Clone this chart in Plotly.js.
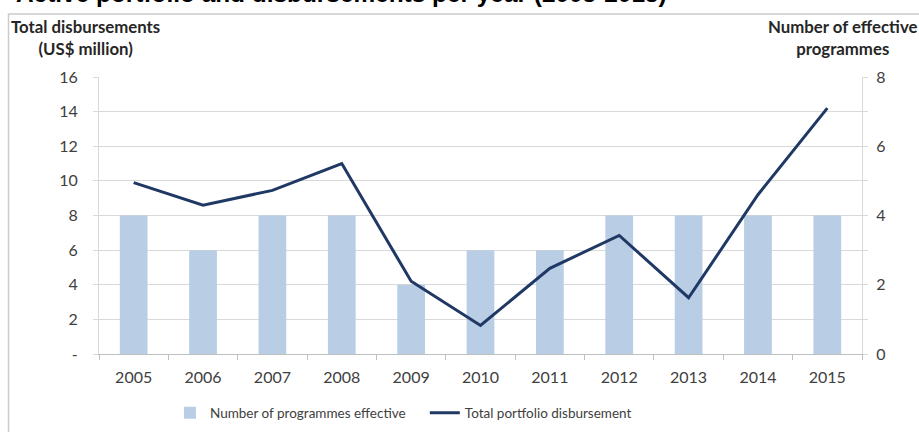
<!DOCTYPE html>
<html>
<head>
<meta charset="utf-8">
<script src="https://cdn.plot.ly/plotly-3.0.1.min.js"></script>
<style>html,body{margin:0;padding:0;background:#fff;}#chart{width:919px;height:432px;}</style>
</head>
<body>
<div id="chart"></div>
<script>
const years = ['2005','2006','2007','2008','2009','2010','2011','2012','2013','2014','2015'];
const programmesEffective = [4, 3, 4, 4, 2, 3, 3, 4, 4, 4, 4];
const disbursement = [9.9, 8.6, 9.45, 11.0, 4.2, 1.65, 4.95, 6.85, 3.25, 9.2, 14.2];
const leftTickVals = [0, 2, 4, 6, 8, 10, 12, 14, 16];
const leftTickText = ['-', '2', '4', '6', '8', '10', '12', '14', '16'];
const rightTickVals = [0, 1, 2, 3, 4, 5, 6, 7, 8];
const rightTickText = ['0', '', '2', '', '4', '', '6', '', '8'];

const FONT = 'Lato, "Open Sans", sans-serif';
const TXT = '#404040';

const traces = [
  {
    type: 'bar', x: years, y: programmesEffective, yaxis: 'y',
    name: 'Number of programmes effective', legend: 'legend',
    marker: {color: '#b9cde5', line: {width: 0}}
  },
  {
    type: 'scatter', mode: 'lines', x: years, y: disbursement, yaxis: 'y2',
    name: 'Total portfolio disbursement', legend: 'legend2',
    line: {color: '#1f3864', width: 3}
  }
];

const legendCommon = {
  orientation: 'h', xanchor: 'left', yref: 'container', y: 0.044, yanchor: 'middle',
  font: {family: FONT, size: 13.5, color: TXT}, itemwidth: 30, bgcolor: 'rgba(0,0,0,0)'
};

const layout = {
  width: 919, height: 432,
  margin: {l: 99, r: 57, t: 77, b: 78},
  paper_bgcolor: '#fff', plot_bgcolor: 'rgba(0,0,0,0)',
  font: {family: FONT, size: 16, color: TXT},
  bargap: 0.6,
  showlegend: true,
  legend: Object.assign({x: 0.093}, legendCommon),
  legend2: Object.assign({x: 0.427}, legendCommon),
  xaxis: {
    type: 'category', showgrid: false, showline: true, linecolor: '#bfbfbf', linewidth: 1,
    ticks: 'outside', tickson: 'boundaries', ticklen: 5, tickcolor: '#bfbfbf',
    tickfont: {family: FONT, size: 16, color: TXT}, ticklabelstandoff: 9,
    fixedrange: true
  },
  yaxis: {
    side: 'right', range: [0, 8], tickvals: rightTickVals, ticktext: rightTickText,
    showgrid: false, zeroline: false, showline: true, linecolor: '#d9d9d9',
    ticks: 'outside', ticklen: 5, tickcolor: '#d9d9d9',
    tickfont: {family: FONT, size: 16, color: TXT}, ticklabelstandoff: 5
  },
  yaxis2: {
    side: 'left', overlaying: 'y', range: [0, 16],
    tickvals: leftTickVals, ticktext: leftTickText,
    showgrid: true, gridcolor: '#d9d9d9', gridwidth: 1, zeroline: false,
    showline: true, linecolor: '#d9d9d9',
    ticks: 'outside', ticklen: 5, tickcolor: '#d9d9d9',
    tickfont: {family: FONT, size: 16, color: TXT}, ticklabelstandoff: 12
  },
  shapes: [
    {type: 'rect', xref: 'paper', yref: 'paper', x0: -0.1186, x1: 1.3, y0: -0.6, y1: 1.2274,
     line: {color: '#cccccc', width: 1.5}, fillcolor: 'rgba(0,0,0,0)', layer: 'below'}
  ],
  annotations: [
    {text: '<b>Active portfolio and disbursements per year (2005-2015)</b>',
     xref: 'paper', yref: 'paper', x: -0.1114, y: 1.302, xanchor: 'left', yanchor: 'middle',
     showarrow: false, font: {family: '"Liberation Sans", Arial, sans-serif', size: 24.4, color: '#000'}},
    {text: '<b>Total disbursements<br>(US$ million)</b>',
     xref: 'paper', yref: 'paper', x: -0.0171, y: 1.1444, xanchor: 'center', yanchor: 'middle', align: 'center',
     showarrow: false, font: {family: FONT, size: 16.8, color: '#262626'}},
    {text: '<b>Number of effective<br>programmes</b>',
     xref: 'paper', yref: 'paper', x: 0.9738, y: 1.1444, xanchor: 'center', yanchor: 'middle', align: 'center',
     showarrow: false, font: {family: FONT, size: 16.8, color: '#262626'}}
  ]
};

Plotly.newPlot('chart', traces, layout, {displayModeBar: false, staticPlot: true});
</script>
</body>
</html>
